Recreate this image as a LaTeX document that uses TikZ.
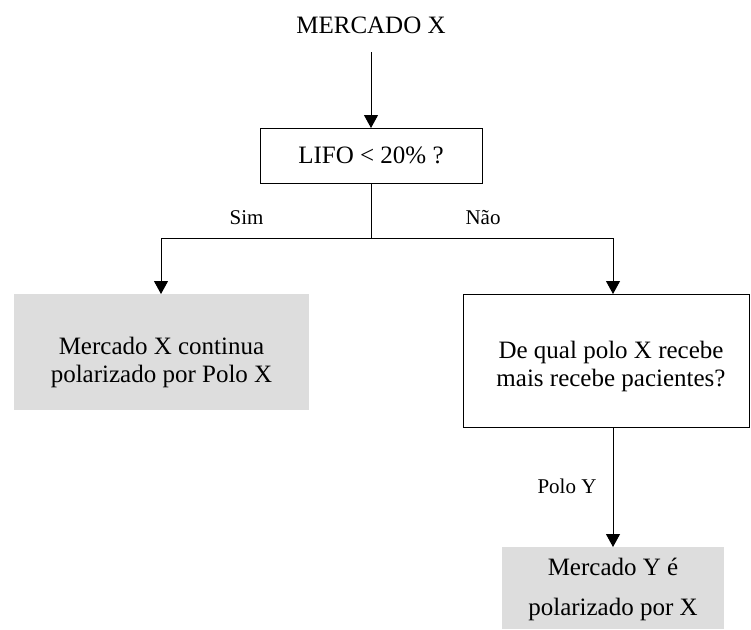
\documentclass[tikz,border=0pt]{standalone}
\usepackage{fontspec}
\setmainfont{Liberation Serif}
\usetikzlibrary{arrows.meta}
\definecolor{boxgray}{RGB}{221,221,221}
\begin{document}
\begin{tikzpicture}[x=1pt,y=-1pt,
  every node/.style={font=\fontsize{25}{28}\selectfont, inner sep=0pt, outer sep=0pt, align=center},
  decision/.style={draw=black, line width=1pt, fill=white},
  outcome/.style={fill=boxgray},
  lbl/.style={font=\fontsize{21}{25}\selectfont},
  link/.style={line width=1pt},
  arrowlink/.style={link, -{Triangle[length=13pt,width=14pt]}}]
\useasboundingbox (0,0) rectangle (751,629);
\fill[white] (0,0) rectangle (751,629);

% nodes
\node (mercado) at (371,25) [minimum height=54pt] {MERCADO X};
\node[decision, minimum width=222pt, minimum height=55pt] (lifo) at (371,155.5) {LIFO < 20\% ?};
\node[outcome, minimum width=295pt, minimum height=116pt,
  label={[yshift=-10pt]center:Mercado X continua\\polarizado por Polo X}] (polox) at (161.5,352) {};
\node[decision, minimum width=286pt, minimum height=133pt,
  label={[xshift=5pt, yshift=-6pt]center:De qual polo X recebe\\mais recebe pacientes?}] (qual) at (606,360.5) {};
\node[outcome, minimum width=222pt, minimum height=82pt,
  label={[yshift=-1pt, font=\fontsize{25}{40}\selectfont]center:Mercado Y é\\polarizado por X}] (poloy) at (613,588) {};

% branch points
\coordinate (split) at (371,238);
\coordinate (sl) at (161,238);
\coordinate (sr) at (613,238);

% connectors
\draw[arrowlink] (mercado.south) -- (lifo.north);
\draw[link] (lifo.south) -- (split);
\draw[link] (sl) -- (sr);
\draw[arrowlink] (sl) -- (sl |- polox.north);
\draw[arrowlink] (sr) -- (sr |- qual.north);
\draw[arrowlink] (qual.south -| poloy.north) -- (poloy.north);

% branch labels
\node[lbl] (sim) at (246.5,218) {Sim};
\node[lbl] (nao) at (483,218) {Não};
\node[lbl] (ply) at (567,486) {Polo Y};
\end{tikzpicture}
\end{document}
